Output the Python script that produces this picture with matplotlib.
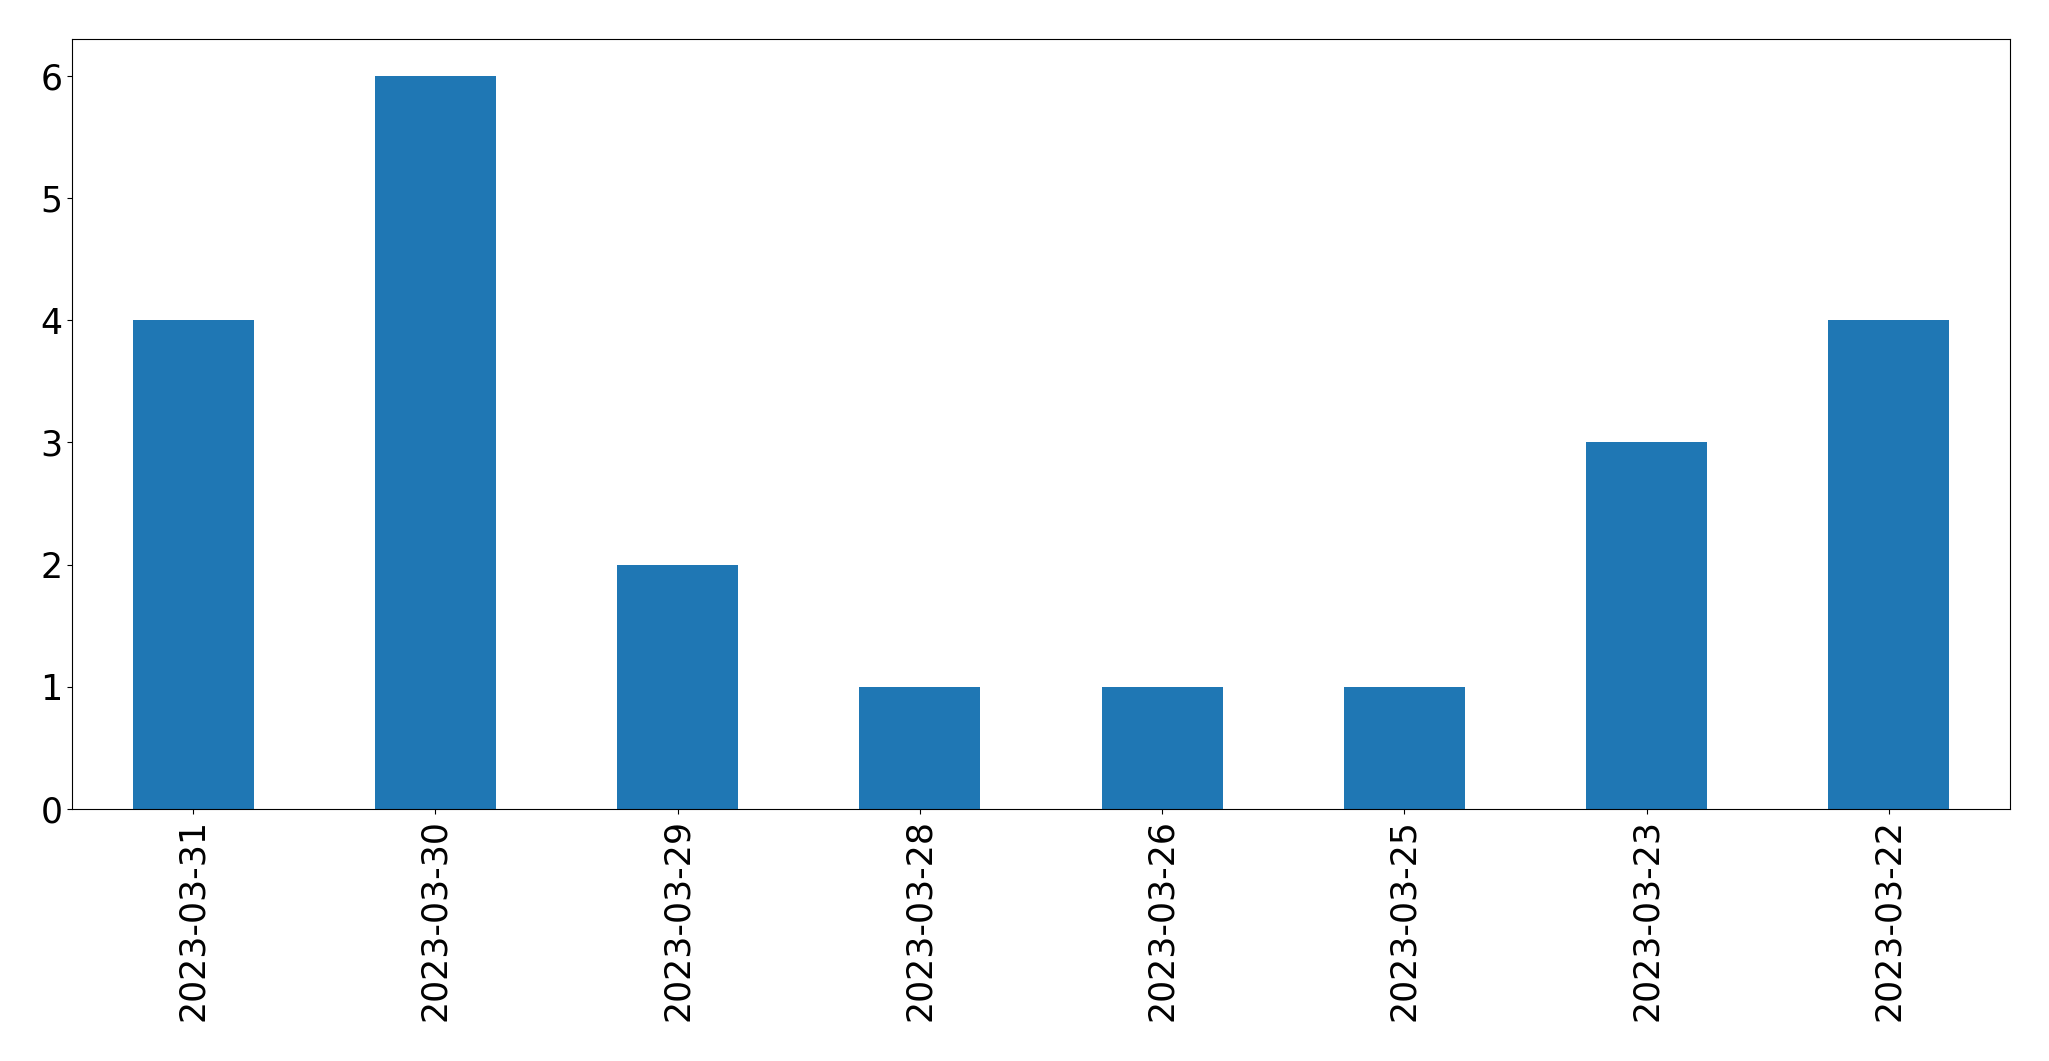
import matplotlib
matplotlib.use("Agg")
import matplotlib.pyplot as plt
import pandas as pd

dates = ['2023-03-31', '2023-03-30', '2023-03-29', '2023-03-28',
         '2023-03-26', '2023-03-25', '2023-03-23', '2023-03-22']
counts = [4, 6, 2, 1, 1, 1, 3, 4]

s = pd.Series(counts, index=dates)

fig = plt.figure(figsize=(20.49, 10.61), dpi=100)
ax = fig.add_axes([72 / 2049, 1 - 809 / 1061, (2010 - 72) / 2049, (809 - 39) / 1061])
s.plot(kind='bar', ax=ax, color='#1f77b4', fontsize=25)
ax.tick_params(axis='both', labelsize=25)

fig.savefig('out.png', dpi=100)
